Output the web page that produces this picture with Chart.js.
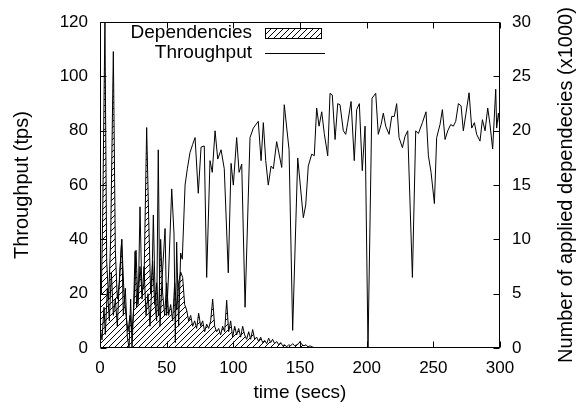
<!DOCTYPE html>
<html><head><meta charset="utf-8">
<style>html,body{margin:0;padding:0;background:#fff;} #wrap{width:579px;height:409px;}</style>
<script src="https://cdn.jsdelivr.net/npm/chart.js@4.4.1/dist/chart.umd.min.js"></script>
</head><body><div id="wrap"><canvas id="c" width="579" height="409"></canvas></div>
<script>
// ---- data ----
const throughputTimes = [0,1.5,3,4,5.5,7,8.5,10,11.5,13,14.5,16.3,17.5,19,20.5,21.8,23,24,25,26.3,27.5,29,30,31.5,33,34.5,36,37.5,39,40,41.5,42.5,43.7,45,46.5,48.8,50,51.5,53.8,55.5,56.5,57.5,59,60.5,61.7,63.8,65.5,67.5,69.5,71.3,73.7,75.8,78.2,80,82.5,84.2,86.3,88.3,90.8,93.2,96.2,98.3,100,102.5,104.3,106.3,108.8,112.5,115,118.7,120.8,122.5,124.3,126.2,128.3,130,132.5,136.3,138.2,141.8,144.5,148.3,152.5,154.3,156.2,158.8,160.7,162.5,164.3,166.3,168.2,170.8,172.5,174.2,176.3,178.3,180,182.5,184.3,185.8,188.3,190.7,192.5,194.5,196.7,198.8,201,204,206.8,208.7,210.8,212.5,214.3,216.8,218.8,220.7,222.5,224.3,226.8,228.8,230.8,234.3,236.8,238.8,241.8,244.5,246.3,248.3,250.8,252.5,255,256.8,258.8,260.8,263,265,266.8,268.8,270.8,272.5,274.5,276.8,278.8,280.8,282.5,285,286.8,288.8,290.8,292.5,294.5,296.8,297.5,298.8,300];
const throughputValues = [8,3,15,5,22,10,28,12,18,8,25,40,12,22,4,0,18,0,12,35.6,15,25,52,18,30,12,20,8,25,49,15,10,73,8,25,44,12,28,58.6,42,2,39,8,35,32.7,60,66,72,75,77.5,57,74,74.4,26,69,64.7,80,69.6,73,66,27.7,68,60,77.5,64.7,67.7,15,77.5,81,83.5,69,83,69,60,67,66,76,66.5,89.6,73,6.5,70,48,52.7,67,71.4,70.8,88.4,81.7,87,79,70.8,93.8,93.2,76.8,90,89.6,80,78.7,83,90.8,69,87.8,90,65.3,81.7,0,92,93.8,78.7,82.3,86.5,81.7,78.7,85.3,85.3,90,77.5,73.8,78,80,26,80,79,83,87,70.8,64.7,53.2,77.5,82.3,87.8,76.8,80,82.3,81.7,83.5,90,89.2,80,86.5,94,81,83,78.7,76.2,84.1,80,88.4,82.3,73.3,95.3,81,86.5,81];
const depTimes = [0,1,2,3.7,5,6.5,8,10,11.5,13,14.5,16.3,18,19.5,21,22.5,24,25.5,27,28.5,30,31.5,33,35,36.5,38,39.5,41,42.5,44,45.5,47,48.5,50,51.5,53,54.5,56,57.5,59,60.5,62,63.5,65,66.5,68,69.5,71,72.5,74,75.5,77,78.5,80,81.5,83,84.5,86,87.5,89,90.5,92,93.5,95,96.5,98,99.5,101,102.5,104,105.5,107,108.5,110,111.5,113,114.5,116,117.5,119,120.5,122,123.5,125,126.5,128,129.5,131,132.5,134,135.5,137,138.5,140,141.5,143,144.5,146,147.5,149,150,151.5,153,154.5,156,157.5,159,160.5,162,300];
const depValues = [6,5,12,30,8,4.5,10,27.3,9,4.5,6,10,5,3,1.5,3,1.5,4,9,4,7.5,5,6,20.3,12,5,8,4,6,3,10,5,3,6,3,4,2.5,6,3.5,6,7,6.5,4,3.5,2.5,3,2,2.5,1.8,3.2,2,2.5,1.5,2.2,1.8,2.5,4.5,2,1.5,1.8,1.2,2,1.5,4.4,1.5,2.5,1,2,1.2,1.8,1,2,1.2,0.8,1.5,0.8,1.7,0.8,1,0.6,1,0.5,0.7,0.4,0.9,0.5,0.8,0.4,0.6,0.3,0.5,0.2,0.3,0.1,0.3,0.2,0.4,0.2,0.3,0.4,0.6,0.3,0.2,0.3,0.1,0.2,0.1,0.05,0,0];
const xTickStep = 50, xMin = 0, xMax = 300;
const yTickStep = 20, yMin = 0, yMax = 120;
const y2TickStep = 5, y2Min = 0, y2Max = 30;

const FONT = '"Liberation Sans", Arial, Helvetica, sans-serif';
Chart.defaults.color = '#000';
Chart.defaults.font.family = FONT;

function hatch() {
  const s = 6, c = document.createElement('canvas');
  c.width = s; c.height = s;
  const g = c.getContext('2d');
  g.strokeStyle = '#000'; g.lineWidth = 1;
  g.beginPath();
  g.moveTo(0, s); g.lineTo(s, 0);
  g.moveTo(-1, 1); g.lineTo(1, -1);
  g.moveTo(s - 1, s + 1); g.lineTo(s + 1, s - 1);
  g.stroke();
  return g.createPattern(c, 'repeat');
}
const pat = hatch();

const decor = {
  id: 'decor',
  afterDraw(chart) {
    const {ctx, chartArea: {left, right, top, bottom}, scales: {x, y, y2}} = chart;
    ctx.save();
    ctx.strokeStyle = '#000'; ctx.lineWidth = 1;
    const L = Math.round(left) + 0.5, R = Math.round(right) - 0.5, T = Math.round(top) + 0.5, B = Math.round(bottom) - 0.5;
    ctx.beginPath();
    ctx.rect(L, T, R - L, B - T);
    const tl = 6;
    x.ticks.forEach(t => { const px = Math.round(x.getPixelForValue(t.value)) + 0.5; ctx.moveTo(px, B); ctx.lineTo(px, B - tl); ctx.moveTo(px, T); ctx.lineTo(px, T + tl); });
    y.ticks.forEach(t => { const py = Math.round(y.getPixelForValue(t.value)) + 0.5; ctx.moveTo(L, py); ctx.lineTo(L + tl, py); });
    y2.ticks.forEach(t => { const py = Math.round(y2.getPixelForValue(t.value)) + 0.5; ctx.moveTo(R, py); ctx.lineTo(R - tl, py); });
    ctx.stroke();
    // legend
    ctx.fillStyle = '#000';
    ctx.font = '19px ' + FONT;
    ctx.textAlign = 'right'; ctx.textBaseline = 'middle';
    ctx.fillText('Dependencies', 252, 33);
    ctx.fillText('Throughput', 252, 53);
    ctx.fillStyle = pat;
    ctx.fillRect(265, 28, 57, 11);
    ctx.strokeRect(265.5, 28.5, 56, 10);
    ctx.beginPath(); ctx.moveTo(265, 53.5); ctx.lineTo(325, 53.5); ctx.stroke();
    // right axis title
    ctx.fillStyle = '#000';
    ctx.font = '20px ' + FONT;
    ctx.translate(566, (top + bottom) / 2);
    ctx.rotate(-Math.PI / 2);
    ctx.textAlign = 'center'; ctx.textBaseline = 'middle';
    ctx.fillText('Number of applied dependecies (x1000)', 0, 0);
    ctx.restore();
  }
};

new Chart(document.getElementById('c'), {
  type: 'line',
  data: {
    datasets: [
      { label: 'Throughput', data: throughputTimes.map((t, i) => ({x: t, y: throughputValues[i]})), yAxisID: 'y', borderColor: '#000', borderWidth: 1, pointRadius: 0, fill: false, tension: 0, order: 0 },
      { label: 'Dependencies', data: depTimes.map((t, i) => ({x: t, y: depValues[i]})), yAxisID: 'y2', borderColor: '#000', borderWidth: 1, backgroundColor: pat, pointRadius: 0, fill: 'origin', tension: 0, order: 1 }
    ]
  },
  options: {
    responsive: false, animation: false, devicePixelRatio: 1,
    layout: { padding: { top: 18, left: 0, right: 0, bottom: 0 } },
    plugins: { legend: { display: false }, tooltip: { enabled: false } },
    scales: {
      x: { type: 'linear', min: xMin, max: xMax, ticks: { stepSize: xTickStep, padding: 10, font: { size: 17 }, maxRotation: 0 }, grid: { display: false, drawTicks: false }, border: { display: false },
           title: { display: true, text: 'time (secs)', font: { size: 19 }, padding: { top: 0, bottom: 5 } }, afterFit(s) { s.height = 61; } },
      y: { type: 'linear', position: 'left', min: yMin, max: yMax, ticks: { stepSize: yTickStep, padding: 12, font: { size: 17 } }, grid: { display: false, drawTicks: false }, border: { display: false },
           title: { display: true, text: 'Throughput (tps)', font: { size: 20 }, padding: { top: 10, bottom: 0 } }, afterFit(s) { s.width = 100; } },
      y2: { type: 'linear', position: 'right', min: y2Min, max: y2Max, ticks: { stepSize: y2TickStep, padding: 12, font: { size: 17 } }, grid: { display: false, drawTicks: false }, border: { display: false }, afterFit(s) { s.width = 79; } }
    }
  },
  plugins: [decor]
});
</script></body></html>
